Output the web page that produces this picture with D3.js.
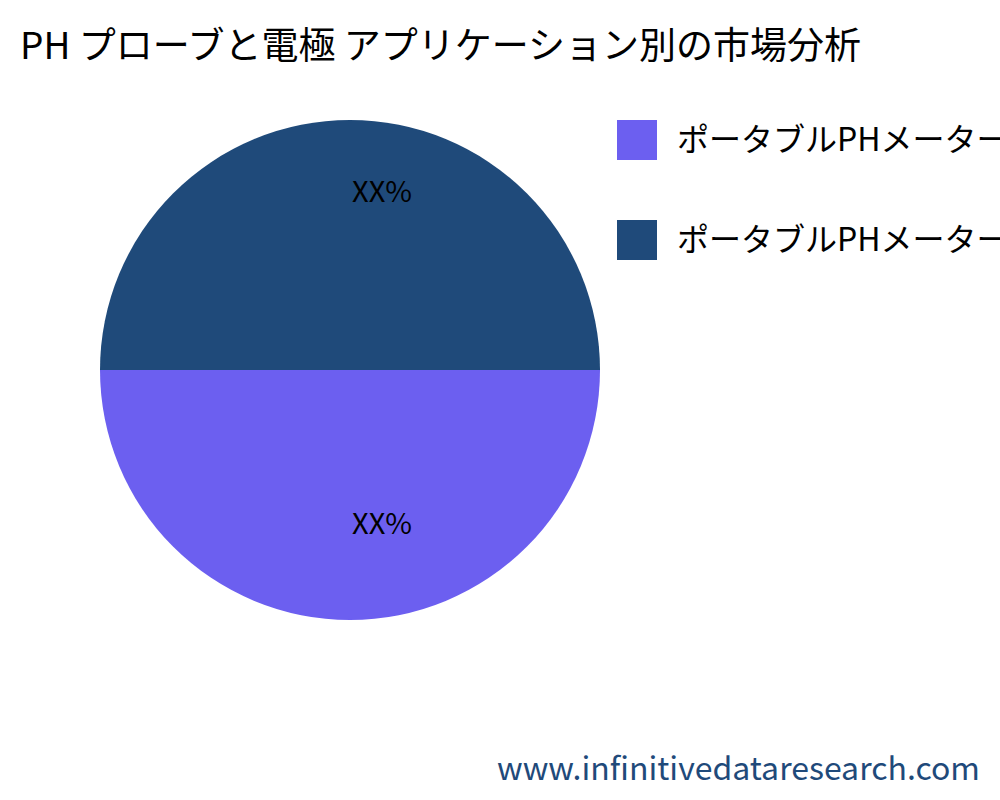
<!DOCTYPE html>
<html><head><meta charset="utf-8">
<script src="https://cdn.jsdelivr.net/npm/d3@7"></script>
<style>body{margin:0;background:#fff}</style></head>
<body><svg id="c" width="1000" height="800"></svg>
<script>
const categories = ["ポータブルPHメーター", "ポータブルPHメーター"];
const values = [50, 50];
const labels = ["XX%", "XX%"];
const colors = ["#6c5ff0", "#1f4a7a"];
const font = "'Noto Sans CJK JP','Noto Sans',sans-serif";
const svg = d3.select("#c");
svg.append("text").attr("x",20).attr("y",59).attr("font-size",37).attr("font-family",font).text("PH プローブと電極 アプリケーション別の市場分析");
const g = svg.append("g").attr("transform","translate(350,370)");
const pie = d3.pie().sort(null).startAngle(Math.PI/2).endAngle(Math.PI*2.5);
const arcs = pie(values);
const arc = d3.arc().innerRadius(0).outerRadius(250);
g.selectAll("path").data(arcs).join("path").attr("d",arc).attr("fill",(d,i)=>colors[i]);
const la = d3.arc().innerRadius(166).outerRadius(166);
g.selectAll("text.l").data(arcs).join("text").attr("class","l")
 .attr("transform",d=>{const c=la.centroid(d);return `translate(${c[0]+32},${c[1]-12})`;})
 .attr("text-anchor","middle").attr("dy","0.35em").attr("font-size",29).attr("font-family",font).text((d,i)=>labels[i]);
const lg = svg.append("g");
categories.forEach((c,i)=>{
 lg.append("rect").attr("x",617).attr("y",120+i*100).attr("width",40).attr("height",40).attr("fill",colors[i]);
 lg.append("text").attr("x",677).attr("y",140+i*100).attr("dy","0.35em").attr("font-size",32).attr("font-family",font).text(c);
});
svg.append("text").attr("x",980).attr("y",780).attr("text-anchor","end").attr("font-size",32).attr("font-family",font).attr("fill","#1f4a7a").text("www.infinitivedataresearch.com");
</script></body></html>
